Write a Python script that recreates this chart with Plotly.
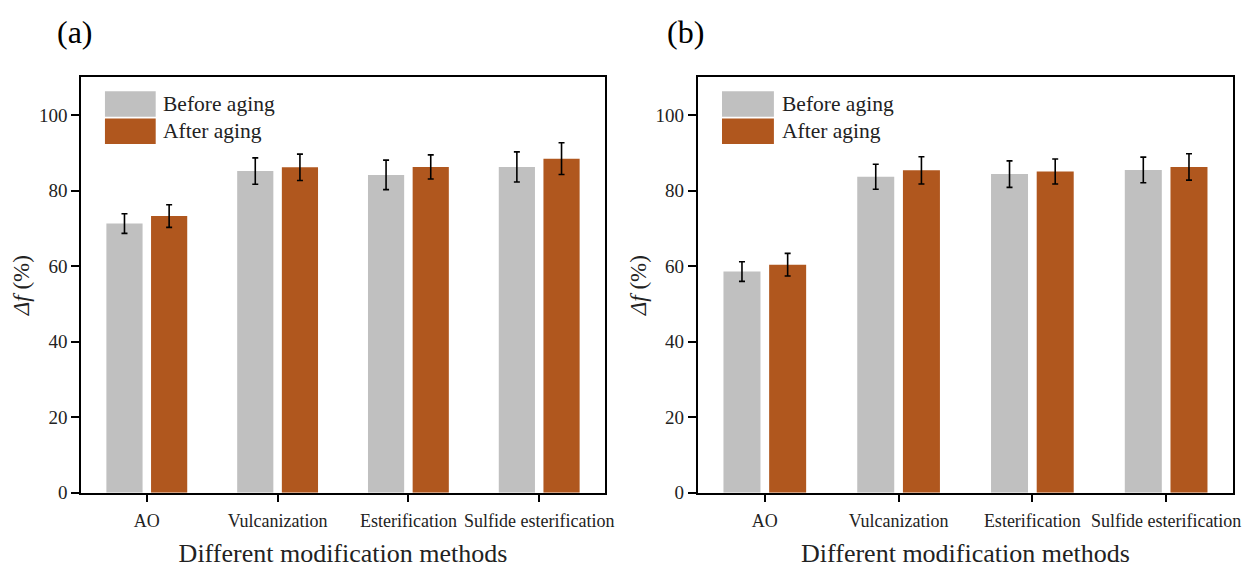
import plotly.graph_objects as go

categories = ["AO", "Vulcanization", "Esterification", "Sulfide esterification"]

a_before = [71.3, 85.2, 84.2, 86.3]
a_before_err = [2.6, 3.5, 3.9, 4.0]
a_after = [73.3, 86.2, 86.3, 88.5]
a_after_err = [3.0, 3.5, 3.2, 4.2]

b_before = [58.6, 83.7, 84.4, 85.5]
b_before_err = [2.6, 3.3, 3.5, 3.4]
b_after = [60.4, 85.4, 85.1, 86.3]
b_after_err = [3.0, 3.6, 3.3, 3.5]

series_names = ["Before aging", "After aging"]
colors = ["#C0C0C0", "#B0571E"]
FONT = "Liberation Serif, Times New Roman, serif"

W, H = 1246, 568
panels = [
    dict(x0=82, x1=609, label="(a)", lx=76, data=[(a_before, a_before_err), (a_after, a_after_err)]),
    dict(x0=703, x1=1242, label="(b)", lx=690, data=[(b_before, b_before_err), (b_after, b_after_err)]),
]
y_top, y_bot = 79, 502.5

fig = go.Figure()
annotations = []
shapes = []
for i, p in enumerate(panels):
    sfx = "" if i == 0 else str(i + 1)
    xa, ya = "x" + sfx, "y" + sfx
    for (vals, errs), name, col in zip(p["data"], series_names, colors):
        fig.add_trace(go.Bar(
            x=categories, y=vals, name=name, xaxis=xa, yaxis=ya,
            marker=dict(color=col, line=dict(width=0)),
            error_y=dict(type="data", array=errs, visible=True, color="black",
                         thickness=1.6, width=3),
            showlegend=False, offsetgroup=name,
        ))
    axis_common = dict(showline=True, linecolor="black", linewidth=2, mirror=True,
                       showgrid=False, zeroline=False, ticks="outside", tickwidth=2,
                       tickcolor="black")
    fig.update_layout(**{
        "xaxis" + sfx: dict(domain=[p["x0"] / W, p["x1"] / W], anchor=ya,
                            ticklen=7, ticklabelstandoff=4,
                            tickfont=dict(family=FONT, size=18, color="#222"),
                            title=dict(text="Different modification methods",
                                       font=dict(family=FONT, size=26, color="#222"),
                                       standoff=14),
                            **axis_common),
        "yaxis" + sfx: dict(domain=[1 - y_bot / H, 1 - y_top / H], anchor=xa,
                            range=[0, 110], tickvals=[0, 20, 40, 60, 80, 100], ticklen=8,
                            tickfont=dict(family=FONT, size=19, color="#222"),
                            title=dict(text="<i>Δf</i> (%)",
                                       font=dict(family=FONT, size=23, color="#222"),
                                       standoff=3),
                            **axis_common),
    })
    annotations.append(dict(text=p["label"], x=p["lx"] / W, y=1 - 33 / H, xref="paper", yref="paper",
                            xanchor="center", yanchor="middle", showarrow=False,
                            font=dict(family=FONT, size=32, color="black")))
    # legend
    for k, (name, col) in enumerate(zip(series_names, colors)):
        yt = 0.967 - k * 0.066
        shapes.append(dict(type="rect", xref=xa + " domain", yref=ya + " domain",
                           x0=0.045, x1=0.142, y0=yt - 0.0614, y1=yt,
                           fillcolor=col, line=dict(width=0)))
        annotations.append(dict(text=name, xref=xa + " domain", yref=ya + " domain",
                                x=0.153, y=yt - 0.03, xanchor="left", yanchor="middle",
                                showarrow=False, font=dict(family=FONT, size=21.5, color="#222")))

fig.update_layout(
    width=W, height=H, margin=dict(l=0, r=0, t=0, b=0),
    paper_bgcolor="white", plot_bgcolor="white",
    barmode="group", bargap=0.317, bargroupgap=0.19,
    annotations=annotations, shapes=shapes,
)
fig.write_html("out.html")
